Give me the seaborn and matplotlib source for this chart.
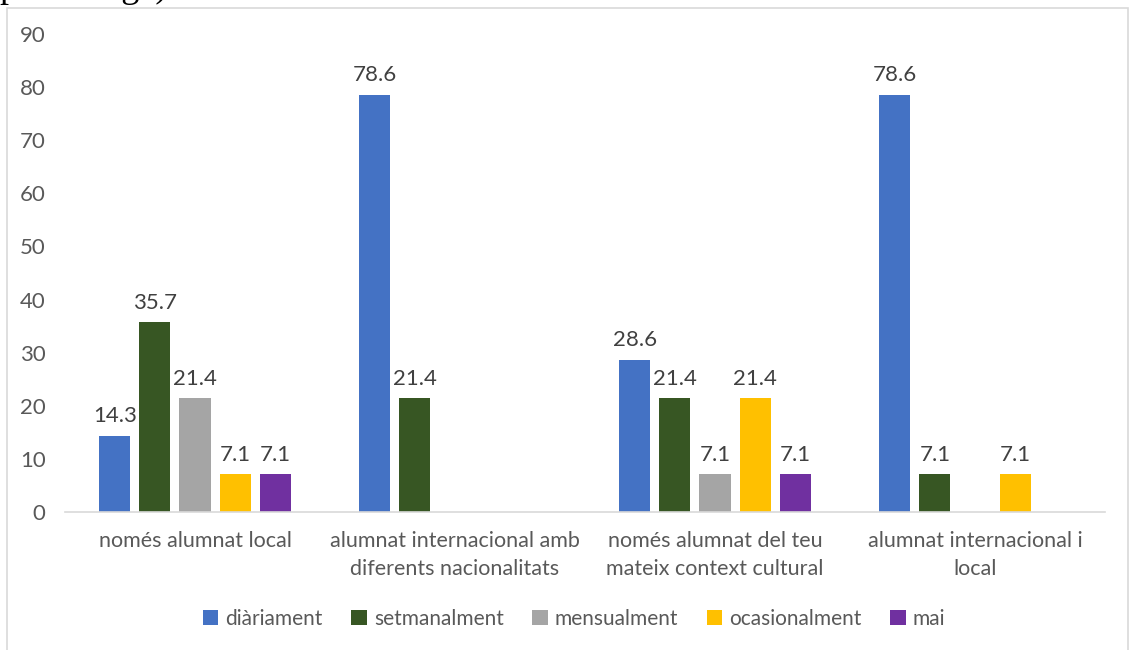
import matplotlib
matplotlib.use("Agg")
import matplotlib.pyplot as plt
import matplotlib.patches as mpatches
import seaborn as sns
import pandas as pd
import numpy as np

categories = [
    "només alumnat local",
    "alumnat internacional amb\ndiferents nacionalitats",
    "només alumnat del teu\nmateix context cultural",
    "alumnat internacional i\nlocal",
]
series = ["diàriament", "setmanalment", "mensualment", "ocasionalment", "mai"]
diariament = [14.3, 78.6, 28.6, 78.6]
setmanalment = [35.7, 21.4, 21.4, 7.1]
mensualment = [21.4, np.nan, 7.1, np.nan]
ocasionalment = [7.1, np.nan, 21.4, 7.1]
mai = [7.1, np.nan, 7.1, np.nan]
yticks = [0, 10, 20, 30, 40, 50, 60, 70, 80, 90]
colors = ["#4472C4", "#375623", "#A5A5A5", "#FFC000", "#7030A0"]

rows = []
for s, vals in zip(series, [diariament, setmanalment, mensualment, ocasionalment, mai]):
    for c, v in zip(categories, vals):
        rows.append({"cat": c, "serie": s, "val": v})
df = pd.DataFrame(rows).dropna()

sns.set_theme(style="white")
plt.rcParams["font.family"] = ["Lato", "DejaVu Sans"]

fig = plt.figure(figsize=(11.32, 6.5), dpi=100)
ax = fig.add_axes([65 / 1132, 1 - 512 / 650, (1105 - 65) / 1132, (512 - 34) / 650])

sns.barplot(data=df, x="cat", y="val", hue="serie", order=categories, hue_order=series,
            palette=colors, saturation=1, width=0.77, gap=0.225, linewidth=0, ax=ax)

tick_color = "#595959"
for cont in ax.containers:
    ax.bar_label(cont, fmt="%.1f", padding=7, fontsize=16, color="#404040")

ax.set_ylim(0, 90)
ax.set_xlim(-0.5, 3.5)
ax.set_yticks(yticks)
ax.set_xlabel("")
ax.set_ylabel("")
ax.tick_params(axis="y", labelsize=16, labelcolor=tick_color, length=0, pad=14)
ax.tick_params(axis="x", labelsize=15.5, labelcolor=tick_color, length=0, pad=14)
for lab in ax.get_xticklabels():
    lab.set_linespacing(1.5)
for sp in ["top", "right", "left"]:
    ax.spines[sp].set_visible(False)
ax.spines["bottom"].set_color("#d9d9d9")
ax.spines["bottom"].set_linewidth(1.2)
ax.grid(False)

handles, labels = ax.get_legend_handles_labels()
ax.get_legend().remove()
fig.legend(handles, labels, loc="center", bbox_to_anchor=(574 / 1132, 1 - 619 / 650),
           ncol=5, frameon=False, fontsize=15, handlelength=0.75, handleheight=0.75,
           handletextpad=0.35, columnspacing=1.35, labelcolor=tick_color)

# chart border
fig.patches.append(mpatches.Rectangle((7 / 1132, -0.01), (1128 - 7) / 1132, 1 - 8 / 650 + 0.01,
                                      transform=fig.transFigure, fill=False,
                                      edgecolor="#d9d9d9", linewidth=1.2))

# cropped document text above the chart
fig.text(-1 / 1132, 1 + 3 / 650, "percentage)", fontsize=26, family=["Liberation Serif"],
         color="black", va="baseline", ha="left")

fig.savefig("out.png", dpi=100)
